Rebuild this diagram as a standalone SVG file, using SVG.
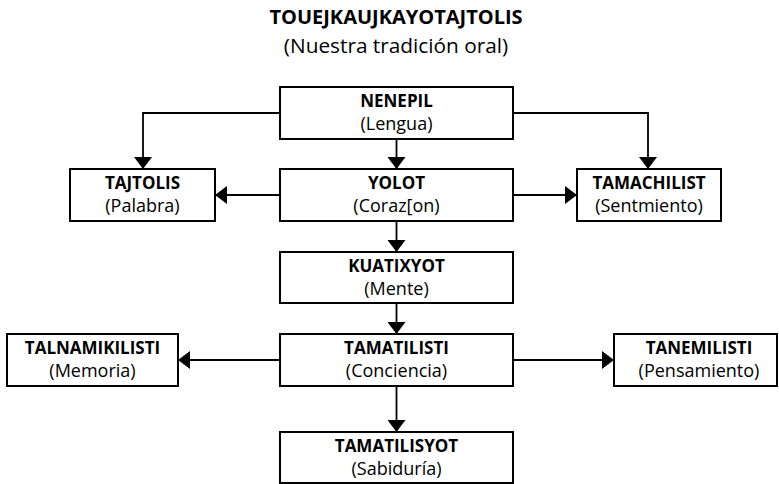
<svg xmlns="http://www.w3.org/2000/svg" width="779" height="484" viewBox="0 0 779 484">
  <style>
    .box { fill: #ffffff; stroke: #000000; stroke-width: 2; }
    .link { fill: none; stroke: #000000; stroke-width: 1.8; }
    text { font-family: "Open Sans", "Noto Sans", sans-serif; fill: #000000; text-anchor: middle; }
    .b { font-weight: bold; font-size: 17px; }
    .r { font-size: 18px; }
    .title { font-weight: bold; font-size: 20px; }
    .sub { font-size: 20.8px; }
  </style>
  <defs>
    <marker id="arrow" markerUnits="userSpaceOnUse" markerWidth="12" markerHeight="18" refX="12" refY="9" orient="auto">
      <path d="M0,0 L12,9 L0,18 Z" fill="#000000"/>
    </marker>
  </defs>

  <g id="title">
    <text class="title" x="396" y="24">TOUEJKAUJKAYOTAJTOLIS</text>
    <text class="sub" x="396" y="53">(Nuestra tradición oral)</text>
  </g>

  <g id="connectors">
    <path class="link" d="M280,113 H143 V169" marker-end="url(#arrow)"/>
    <path class="link" d="M513,113 H648 V169" marker-end="url(#arrow)"/>
    <path class="link" d="M396.5,139 V169" marker-end="url(#arrow)"/>
    <path class="link" d="M280,195 H215" marker-end="url(#arrow)"/>
    <path class="link" d="M513,195 H577" marker-end="url(#arrow)"/>
    <path class="link" d="M396.5,221 V252" marker-end="url(#arrow)"/>
    <path class="link" d="M396.5,303 V334" marker-end="url(#arrow)"/>
    <path class="link" d="M280,360 H178" marker-end="url(#arrow)"/>
    <path class="link" d="M513,360 H614" marker-end="url(#arrow)"/>
    <path class="link" d="M396.5,386 V432" marker-end="url(#arrow)"/>
  </g>

  <g id="nenepil">
    <rect class="box" x="280" y="87" width="233" height="52"/>
    <text class="b" x="396.5" y="107">NENEPIL</text>
    <text class="r" x="396.5" y="130">(Lengua)</text>
  </g>
  <g id="tajtolis">
    <rect class="box" x="70" y="169" width="145" height="52"/>
    <text class="b" x="142.5" y="189">TAJTOLIS</text>
    <text class="r" x="142.5" y="212">(Palabra)</text>
  </g>
  <g id="yolot">
    <rect class="box" x="280" y="169" width="233" height="52"/>
    <text class="b" x="396.5" y="189">YOLOT</text>
    <text class="r" x="396.5" y="212">(Coraz[on)</text>
  </g>
  <g id="tamachilist">
    <rect class="box" x="577" y="169" width="144" height="52"/>
    <text class="b" x="649" y="189">TAMACHILIST</text>
    <text class="r" x="649" y="212">(Sentmiento)</text>
  </g>
  <g id="kuatixyot">
    <rect class="box" x="280" y="252" width="233" height="51"/>
    <text class="b" x="396.5" y="272">KUATIXYOT</text>
    <text class="r" x="396.5" y="295">(Mente)</text>
  </g>
  <g id="talnamikilisti">
    <rect class="box" x="7" y="334" width="171" height="52"/>
    <text class="b" x="92.5" y="354">TALNAMIKILISTI</text>
    <text class="r" x="92.5" y="377">(Memoria)</text>
  </g>
  <g id="tamatilisti">
    <rect class="box" x="280" y="334" width="233" height="52"/>
    <text class="b" x="396.5" y="354">TAMATILISTI</text>
    <text class="r" x="396.5" y="377">(Conciencia)</text>
  </g>
  <g id="tanemilisti">
    <rect class="box" x="614" y="334" width="163" height="52"/>
    <text class="b" x="699" y="354">TANEMILISTI</text>
    <text class="r" x="699" y="377">(Pensamiento)</text>
  </g>
  <g id="tamatilisyot">
    <rect class="box" x="280" y="432" width="233" height="51"/>
    <text class="b" x="396.5" y="452">TAMATILISYOT</text>
    <text class="r" x="396.5" y="475">(Sabiduría)</text>
  </g>
</svg>
